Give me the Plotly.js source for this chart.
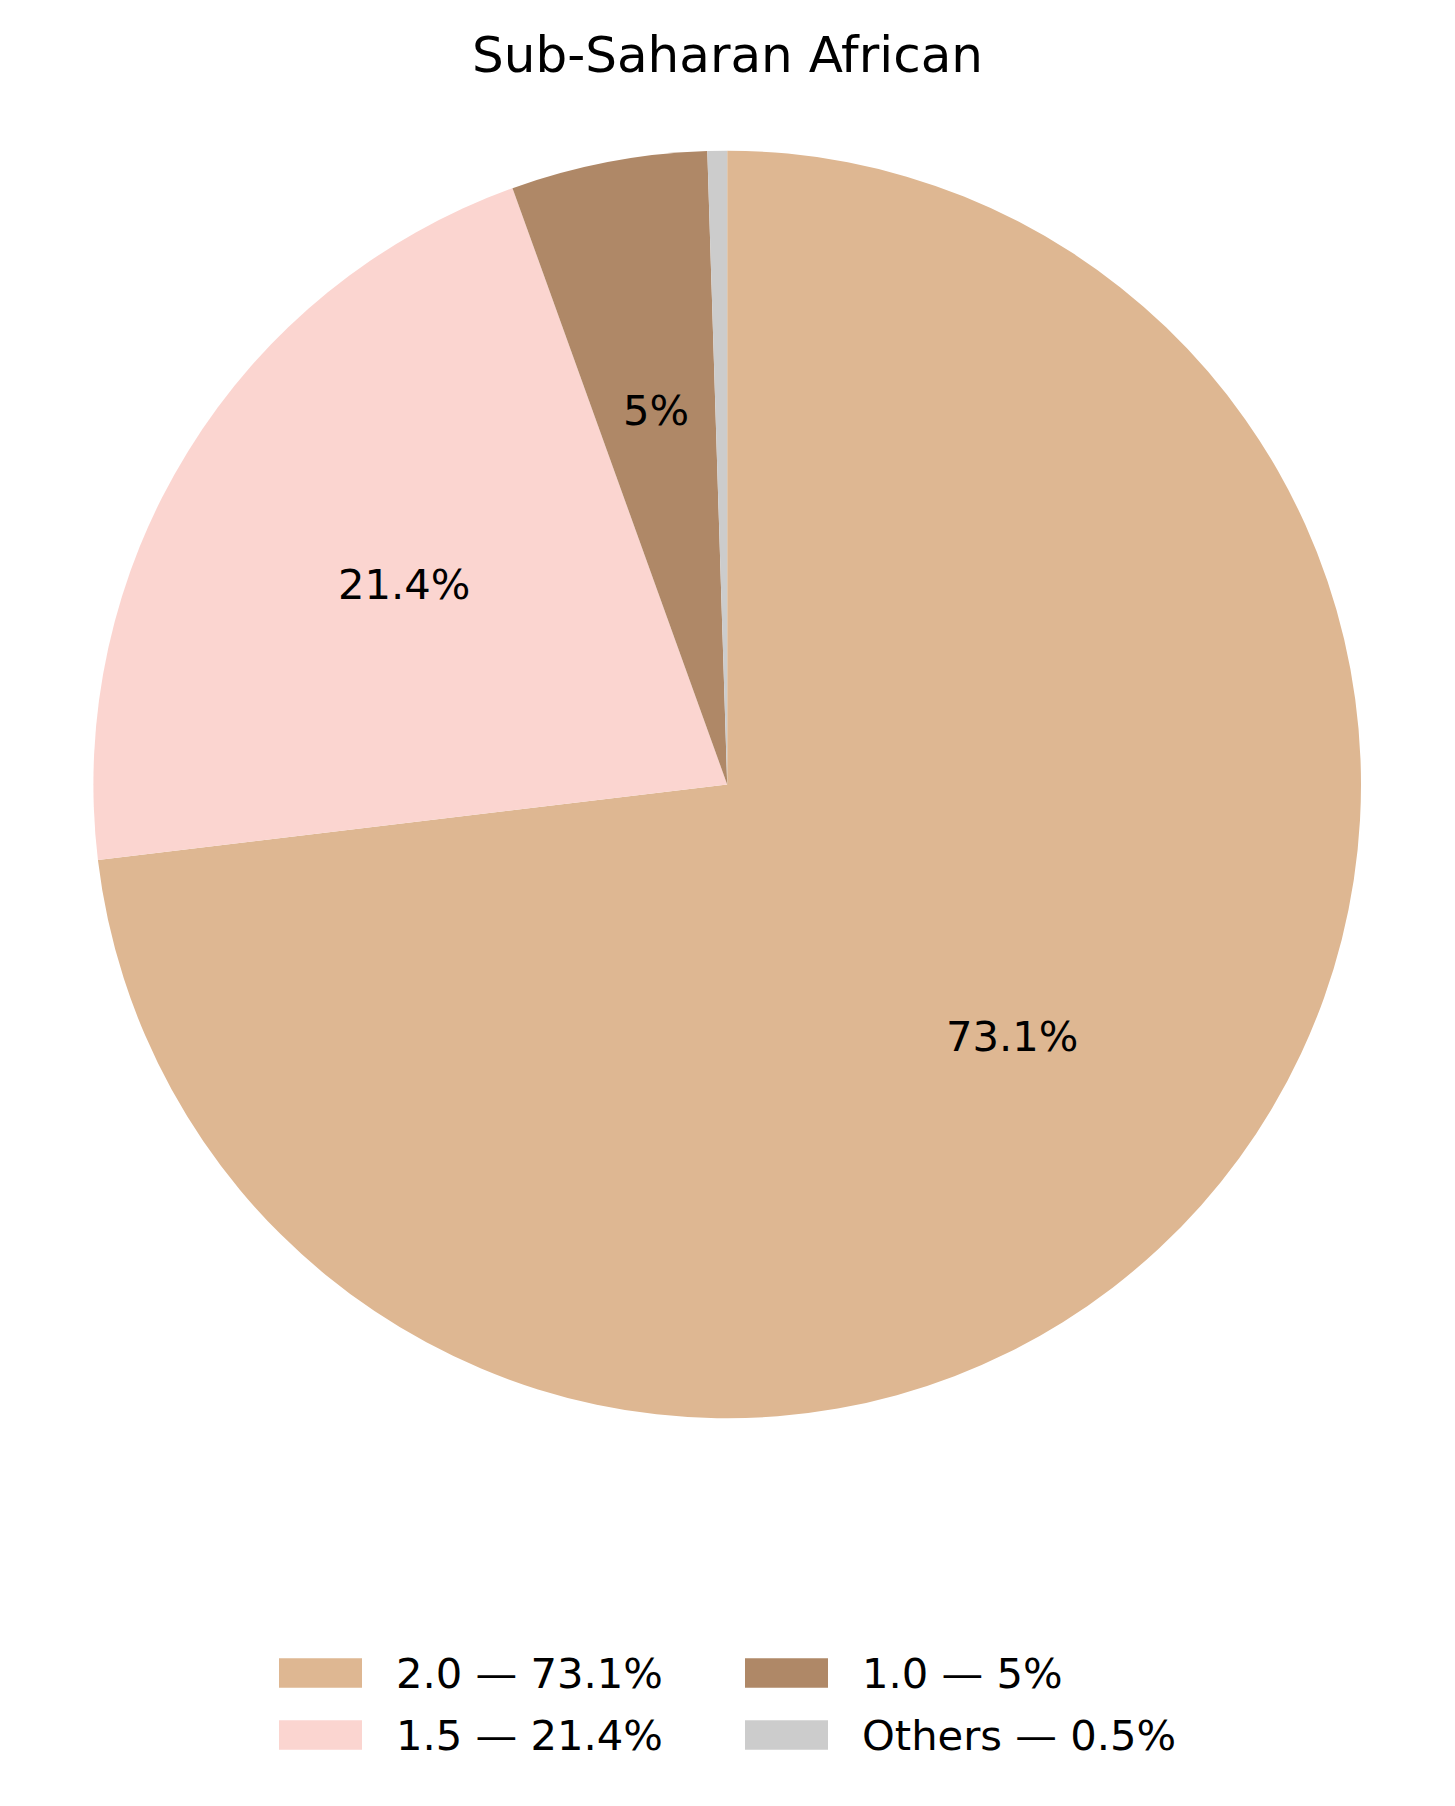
<!DOCTYPE html>
<html>
<head>
<meta charset="utf-8">
<script src="https://cdn.plot.ly/plotly-3.0.1.min.js"></script>
<style>html,body{margin:0;padding:0;background:#fff;}#chart{width:1455px;height:1806px;}</style>
</head>
<body>
<div id="chart"></div>
<script>
// ---- Data ----
const categories = ['2.0', '1.5', '1.0', 'Others'];
const shares = [73.1, 21.4, 5.0, 0.5];
const pctLabels = ['73.1%', '21.4%', '5%', ''];
const legendLabels = ['2.0 — 73.1%', '1.5 — 21.4%', '1.0 — 5%', 'Others — 0.5%'];
const colors = ['#DEB792', '#FBD5D0', '#AF8867', '#CCCCCC'];
const chartTitle = 'Sub-Saharan African';

// ---- Layout geometry (pixels) ----
const W = 1455, H = 1806;
const cx = 727.2, cy = 784.5, R = 633.8;
const FONT = 'DejaVu Sans, Liberation Sans, sans-serif';
const px2x = p => p / W;
const px2y = p => 1 - p / H;

const total = shares.reduce((a, b) => a + b, 0);

// pie labels at 0.6 radius (computed from data)
const annotations = [];
let cum = 0;
shares.forEach((v, i) => {
  const mid = (cum + v / 2) / total;
  cum += v;
  if (!pctLabels[i]) return;
  const th = (90 - 360 * mid) * Math.PI / 180;
  const x = cx + 0.6 * R * Math.cos(th);
  const y = cy - 0.6 * R * Math.sin(th);
  annotations.push({
    x: px2x(x), y: px2y(y), xref: 'paper', yref: 'paper',
    text: pctLabels[i], showarrow: false, xanchor: 'center', yanchor: 'middle',
    font: {family: FONT, size: 41.7, color: '#000'}
  });
});

// legend (column-major, 2 columns)
const shapes = [];
const colPatchX = [279, 745];
const colTextX = [394, 860];
const rowY = [1673, 1735];
const patchW = 83, patchH = 29.5;
categories.forEach((c, i) => {
  const col = Math.floor(i / 2), row = i % 2;
  shapes.push({
    type: 'rect', xref: 'paper', yref: 'paper', line: {width: 0},
    fillcolor: colors[i],
    x0: px2x(colPatchX[col]), x1: px2x(colPatchX[col] + patchW),
    y0: px2y(rowY[row] - patchH / 2), y1: px2y(rowY[row] + patchH / 2)
  });
  annotations.push({
    x: px2x(colTextX[col]), y: px2y(rowY[row]), xref: 'paper', yref: 'paper',
    text: legendLabels[i], showarrow: false, xanchor: 'left', yanchor: 'middle',
    font: {family: FONT, size: 41.7, color: '#000'}
  });
});

const trace = {
  type: 'pie',
  labels: categories,
  values: shares,
  sort: false,
  direction: 'clockwise',
  rotation: 0,
  marker: {colors: colors, line: {width: 0}},
  textinfo: 'none',
  hoverinfo: 'label+percent',
  showlegend: false,
  domain: {
    x: [px2x(cx - R), px2x(cx + R)],
    y: [px2y(cy + R), px2y(cy - R)]
  }
};

const layout = {
  width: W, height: H,
  margin: {l: 0, r: 0, t: 0, b: 0},
  paper_bgcolor: '#fff',
  title: {
    text: chartTitle, x: 0.5, xanchor: 'center', y: px2y(54), yanchor: 'middle',
    xref: 'paper', yref: 'paper',
    font: {family: FONT, size: 50, color: '#000'}
  },
  showlegend: false,
  annotations: annotations,
  shapes: shapes
};

Plotly.newPlot('chart', [trace], layout, {displayModeBar: false, staticPlot: true});
</script>
</body>
</html>
